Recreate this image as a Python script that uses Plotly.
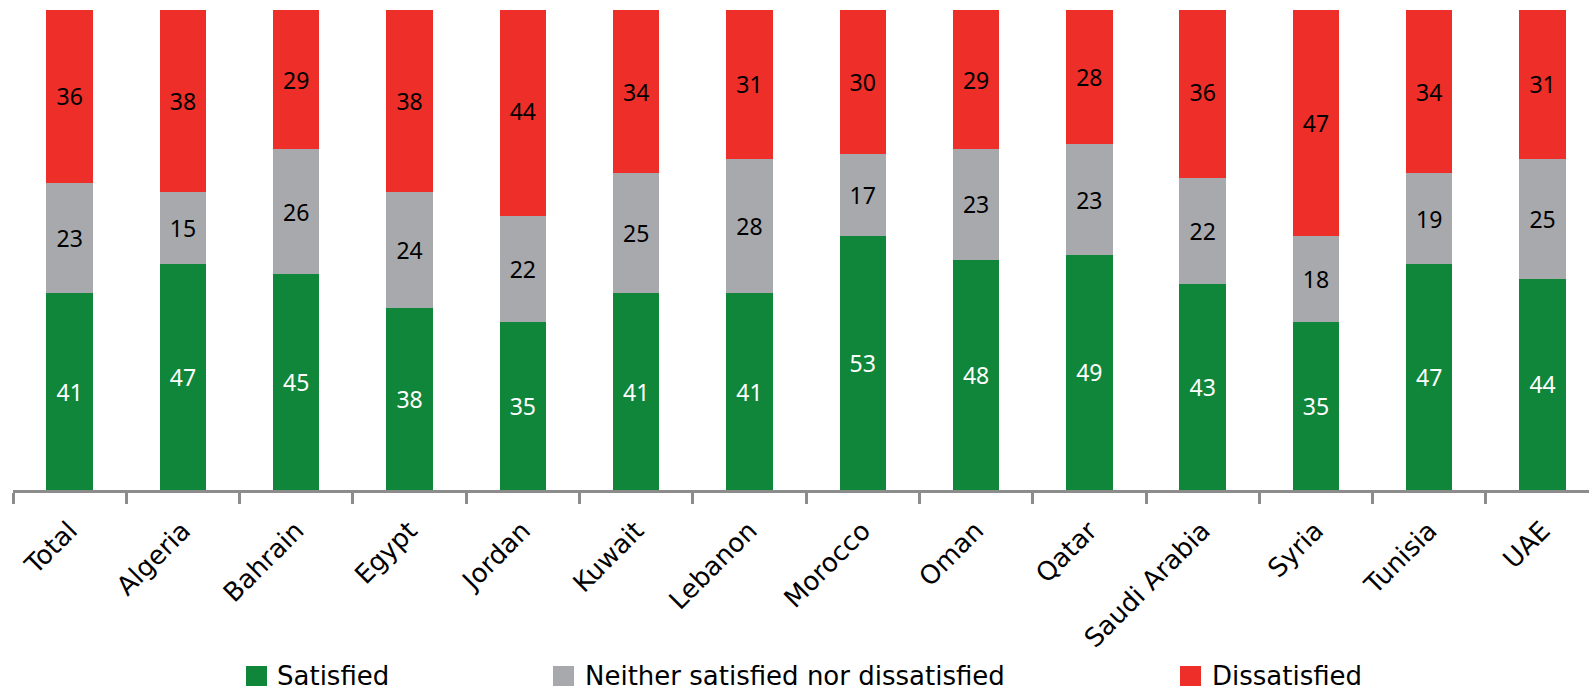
import plotly.graph_objects as go

countries = ["Total", "Algeria", "Bahrain", "Egypt", "Jordan", "Kuwait", "Lebanon",
             "Morocco", "Oman", "Qatar", "Saudi Arabia", "Syria", "Tunisia", "UAE"]
satisfied = [41, 47, 45, 38, 35, 41, 41, 53, 48, 49, 43, 35, 47, 44]
neither = [23, 15, 26, 24, 22, 25, 28, 17, 23, 23, 22, 18, 19, 25]
dissatisfied = [36, 38, 29, 38, 44, 34, 31, 30, 29, 28, 36, 47, 34, 31]

series = [
    ("Satisfied", satisfied, "#10863A", "white"),
    ("Neither satisfied nor dissatisfied", neither, "#A8A9AC", "black"),
    ("Dissatisfied", dissatisfied, "#EE2E28", "black"),
]

LABEL_FONT = "Noto Sans"
TEXT_FONT = "DejaVu Sans"
W, H = 1589, 691
ML, MT, MB = 13, 10, 201
plot_w = W - ML
plot_h = H - MT - MB

fig = go.Figure()
for name, vals, color, tcolor in series:
    fig.add_trace(go.Bar(
        x=countries, y=vals, name=name,
        marker=dict(color=color, line=dict(width=0)),
        text=[str(v) for v in vals],
        textposition="inside", insidetextanchor="middle", textangle=0,
        constraintext="none",
        textfont=dict(family=LABEL_FONT, size=23, color=tcolor),
        showlegend=False, hoverinfo="x+y+name",
    ))

# legend drawn as swatches + labels below the axis
legend_items = [(246, 275), (553, 583), (1180, 1210)]
cy = -(676 - (H - MB)) / plot_h
shapes, annotations = [], []
for (sx, tx), (name, _, color, _) in zip(legend_items, series):
    shapes.append(dict(
        type="rect", xref="paper", yref="paper",
        xsizemode="pixel", ysizemode="pixel",
        xanchor=(sx - ML) / plot_w, yanchor=cy,
        x0=0, x1=21, y0=-10, y1=10,
        fillcolor=color, line=dict(width=0),
    ))
    annotations.append(dict(
        text=name, xref="paper", yref="paper",
        x=(tx - ML) / plot_w, y=cy, xanchor="left", yanchor="middle",
        showarrow=False, font=dict(family=TEXT_FONT, size=26, color="black"),
    ))

fig.update_layout(
    width=W, height=H,
    margin=dict(l=ML, r=0, t=MT, b=MB, pad=0),
    barmode="stack", bargap=0.59,
    plot_bgcolor="white", paper_bgcolor="white",
    font=dict(family=TEXT_FONT, color="black"),
    shapes=shapes, annotations=annotations,
    xaxis=dict(
        type="category", range=[-0.5, 13.41],
        showline=True, linecolor="#8C8C8C", linewidth=3,
        ticks="outside", tickson="boundaries", ticklen=11,
        tickwidth=3, tickcolor="#8C8C8C",
        tickangle=-45, ticklabelstandoff=12,
        tickfont=dict(family=TEXT_FONT, size=26, color="black"),
        showgrid=False, zeroline=False,
    ),
    yaxis=dict(range=[0, 100], visible=False, showgrid=False, zeroline=False),
)

fig.write_html("out.html")
